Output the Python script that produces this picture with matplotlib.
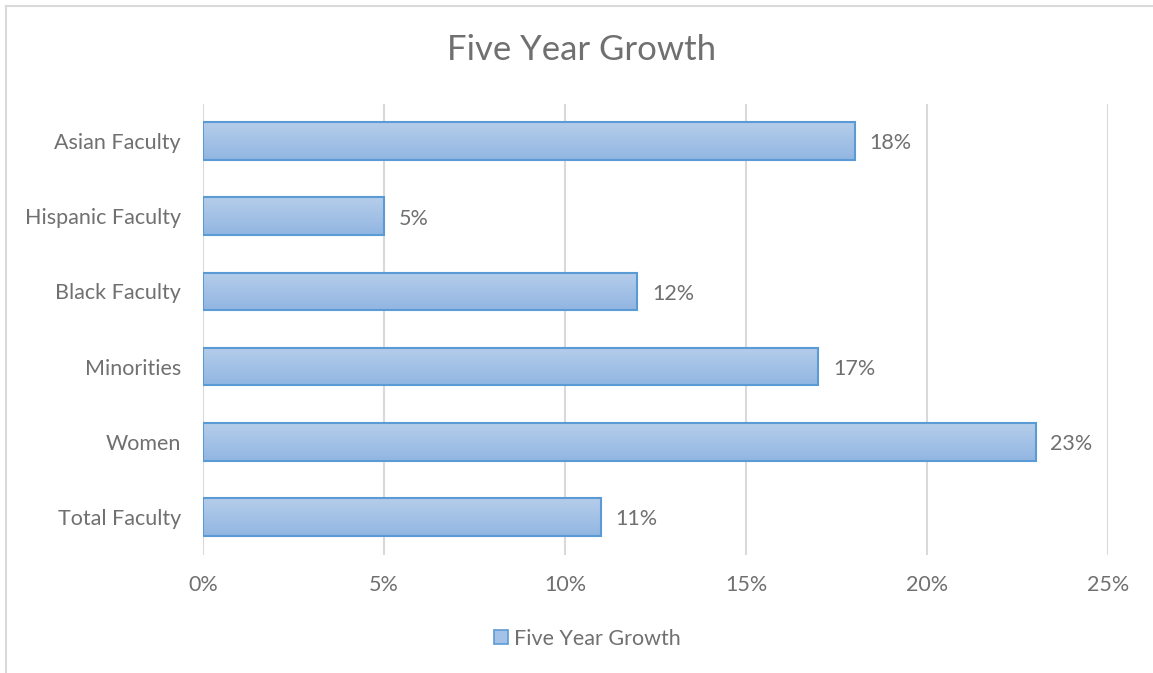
import matplotlib

matplotlib.use("Agg")
import matplotlib.pyplot as plt
from matplotlib.patches import Patch
from matplotlib.lines import Line2D
import numpy as np

# data, top to bottom as shown
categories = ["Asian Faculty", "Hispanic Faculty", "Black Faculty",
              "Minorities", "Women", "Total Faculty"]
growth = [18, 5, 12, 17, 23, 11]
x_ticks = [0, 5, 10, 15, 20, 25]
series_name = "Five Year Growth"

text_color = "#707070"
edge_color = "#5b9bd5"
grid_color = "#d9d9d9"

plt.rcParams["font.family"] = ["Lato", "DejaVu Sans"]

fig = plt.figure(figsize=(11.53, 6.73), dpi=100)
ax = fig.add_axes([0.1761, 0.176, 0.7849, 0.6702])

y_pos = np.arange(len(categories))
bar_h = 0.5

# vertical gradient, light on top
grad = np.linspace(0, 1, 64).reshape(-1, 1)
cmap = matplotlib.colors.LinearSegmentedColormap.from_list(
    "bar", ["#b5cdea", "#92b6e2"])

for y, v in zip(y_pos, growth):
    ax.imshow(grad, extent=(0, v, y + bar_h / 2, y - bar_h / 2),
              cmap=cmap, aspect="auto", zorder=2, interpolation="bilinear")
    ax.add_patch(plt.Rectangle((0, y - bar_h / 2), v, bar_h, fill=False,
                               edgecolor=edge_color, linewidth=1.5, zorder=3))
    ax.text(v + 0.4, y + 0.03, f"{v}%", va="center", ha="left",
            fontsize=15.5, color=text_color, zorder=4)

ax.set_xlim(0, 25)
ax.set_ylim(len(categories) - 0.5, -0.5)
ax.set_xticks(x_ticks)
ax.set_xticklabels([f"{t}%" for t in x_ticks])
ax.set_yticks(y_pos)
ax.set_yticklabels(categories)
ax.tick_params(axis="both", length=0, labelsize=15.5, labelcolor=text_color)
ax.tick_params(axis="x", pad=15)
ax.tick_params(axis="y", pad=16)
ax.grid(axis="x", color=grid_color, linewidth=1.5, zorder=0)
ax.set_axisbelow(True)
for spine in ax.spines.values():
    spine.set_visible(False)

fig.text(0.5044, 0.926, "Five Year Growth", ha="center", va="center",
         fontsize=25, color=text_color)

handle = Patch(facecolor="#a4c2e8", edgecolor=edge_color, linewidth=1.2)
fig.legend([handle], [series_name], loc="center", bbox_to_anchor=(0.5096, 0.051),
           frameon=False, fontsize=15.5, labelcolor=text_color,
           handlelength=0.65, handleheight=0.65, handletextpad=0.3)

# chart-area border (top and left only visible)
fig.add_artist(Line2D([0.0052, 1], [0.991, 0.991], color="#d9d9d9",
                      linewidth=1.5, transform=fig.transFigure))
fig.add_artist(Line2D([0.0052, 0.0052], [0, 0.991], color="#d9d9d9",
                      linewidth=1.5, transform=fig.transFigure))

fig.savefig("out.png", dpi=100)
